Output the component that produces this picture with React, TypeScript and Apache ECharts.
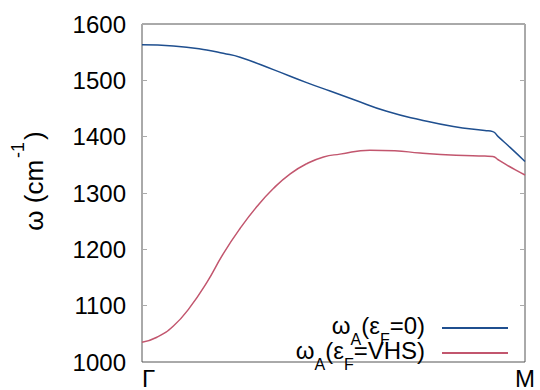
import React, { useEffect, useRef } from "react";
import * as echarts from "echarts";

const FONT = "'Liberation Sans', Arial, Helvetica, sans-serif";

// x: fraction of the path from Γ (0) to M (1)
const blueX = [0, 0.082, 0.169, 0.212, 0.256, 0.343, 0.43, 0.491, 0.552, 0.639, 0.726, 0.813, 0.895, 0.916, 0.93, 0.961, 1];
const blueY = [1563, 1561, 1554, 1548, 1541, 1519, 1496, 1481, 1466, 1445, 1430, 1418, 1411, 1409, 1400, 1381, 1356];

const redX = [0, 0.039, 0.082, 0.125, 0.169, 0.212, 0.256, 0.3, 0.343, 0.387, 0.43, 0.474, 0.517, 0.595, 0.66, 0.726, 0.82, 0.895, 0.916, 0.93, 0.952, 0.975, 1];
const redY = [1035, 1044, 1064, 1097, 1141, 1192, 1237, 1276, 1308, 1334, 1352, 1364, 1369, 1376, 1375, 1371, 1367, 1365.5, 1365, 1359, 1350, 1341, 1332];

const seriesNames = ["wA0", "wAVHS"];
const legendLabels: Record<string, string> = {
  wA0: "{n|ω}{s|A}{n|(ε}{s|F}{n|=0)}",
  wAVHS: "{n|ω}{s|A}{n|(ε}{s|F}{n|=VHS)}",
};
const xTickLabels: Record<number, string> = { 0: "Γ", 1: "M" };

const yMin = 1000;
const yMax = 1600;
const yInterval = 100;

export default function App() {
  const ref = useRef<HTMLDivElement>(null);
  useEffect(() => {
    document.body.style.margin = "0";
    if (!ref.current) return;
    const chart = echarts.init(ref.current, undefined, { renderer: "svg" });
    const toPairs = (xs: number[], ys: number[]) => xs.map((x, i) => [x, ys[i]]);
    const tickColor = "#aaaaaa";
    const legendBase = {
      orient: "vertical",
      right: 27,
      align: "right",
      itemWidth: 66,
      itemHeight: 2,
      itemGap: 0,
      icon: "rect",
      formatter: (name: string) => legendLabels[name],
      textStyle: {
        fontFamily: FONT,
        color: "#000",
        padding: [0, 12, 0, 0],
        rich: {
          n: { fontSize: 24, fontFamily: FONT, color: "#000", lineHeight: 18, padding: [0, 0, 6, 0] },
          s: { fontSize: 16, fontFamily: FONT, color: "#000", lineHeight: 1, padding: [22, 0, 0, 0] },
        },
      },
    };
    chart.setOption({
      animation: false,
      backgroundColor: "#ffffff",
      grid: {
        left: 142,
        right: 15,
        top: 24,
        bottom: 25,
        show: true,
        borderColor: "#555555",
        borderWidth: 1,
        backgroundColor: "transparent",
      },
      xAxis: {
        type: "value",
        min: 0,
        max: 1,
        interval: 1,
        axisLine: { show: false },
        axisTick: { show: false },
        splitLine: { show: false },
        axisLabel: {
          color: "#000",
          fontSize: 24,
          fontFamily: FONT,
          margin: 4,
          alignMinLabel: "left",
          formatter: (v: number) => xTickLabels[v] ?? "",
        },
      },
      yAxis: [
        {
          type: "value",
          min: yMin,
          max: yMax,
          interval: yInterval,
          axisLine: { show: false },
          axisTick: { show: true, inside: true, length: 5, lineStyle: { color: tickColor } },
          splitLine: { show: false },
          axisLabel: {
            color: "#000",
            fontSize: 24,
            fontFamily: FONT,
            margin: 16,
            formatter: (v: number) => String(v),
          },
        },
        {
          type: "value",
          position: "right",
          min: yMin,
          max: yMax,
          interval: yInterval,
          axisLine: { show: false },
          axisTick: { show: true, inside: true, length: 5, lineStyle: { color: tickColor } },
          splitLine: { show: false },
          axisLabel: { show: false },
        },
      ],
      legend: [
        { ...legendBase, top: 304, data: [seriesNames[0]] },
        { ...legendBase, top: 329, data: [seriesNames[1]] },
      ],
      graphic: [
        {
          type: "text",
          x: 34,
          y: 181,
          rotation: Math.PI / 2,
          style: {
            text: "{n|ω (cm}{p|-1}{n|)}",
            align: "center",
            verticalAlign: "middle",
            fill: "#000",
            rich: {
              n: { fontSize: 26, fontFamily: FONT, fill: "#000", lineHeight: 26 },
              p: { fontSize: 18, fontFamily: FONT, fill: "#000", lineHeight: 1, padding: [0, 2, 32, 2] },
            },
          },
        },
      ],
      series: [
        {
          name: seriesNames[0],
          type: "line",
          data: toPairs(blueX, blueY),
          showSymbol: false,
          smooth: 0.5,
          lineStyle: { color: "#1f4f8f", width: 1.5 },
          itemStyle: { color: "#1f4f8f" },
        },
        {
          name: seriesNames[1],
          type: "line",
          data: toPairs(redX, redY),
          showSymbol: false,
          smooth: 0.5,
          lineStyle: { color: "#c2566e", width: 1.5 },
          itemStyle: { color: "#c2566e" },
        },
      ],
    });
    return () => chart.dispose();
  }, []);
  return <div ref={ref} style={{ width: 540, height: 390 }} />;
}
